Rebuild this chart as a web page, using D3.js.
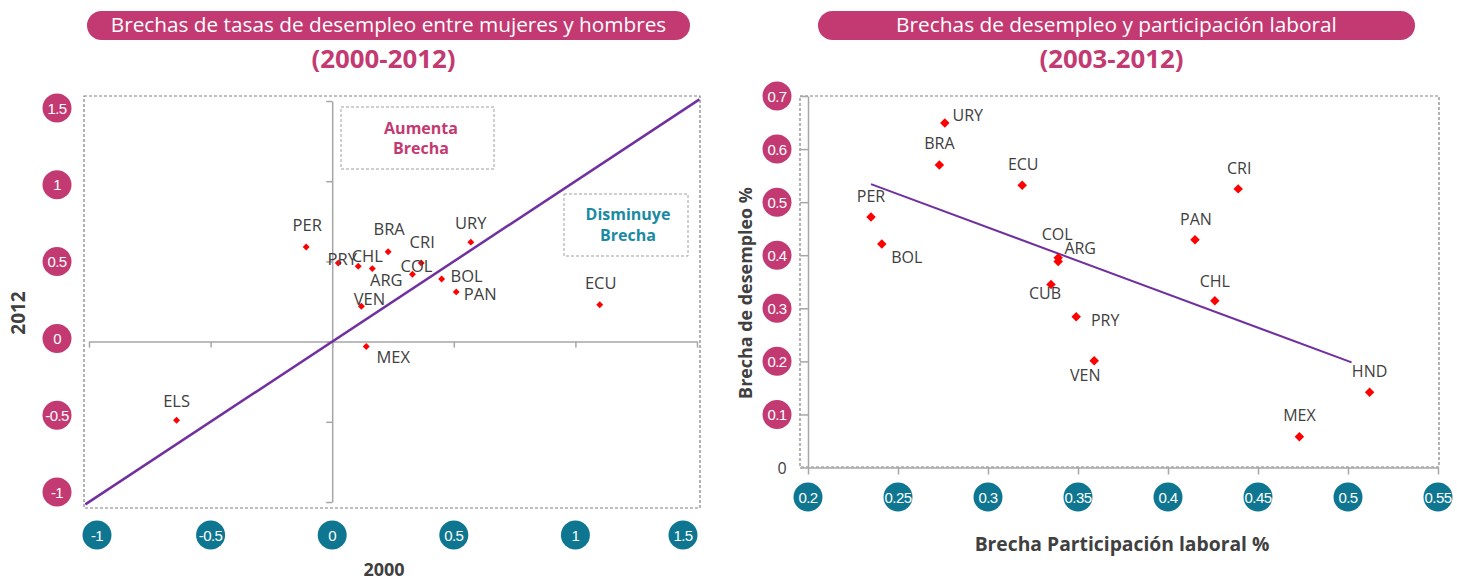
<!DOCTYPE html>
<html>
<head>
<meta charset="utf-8">
<script src="https://cdn.jsdelivr.net/npm/d3@7"></script>
<style>
  body { margin: 0; background: #fff; }
  svg { display: block; font-family: "Open Sans", sans-serif; }
</style>
</head>
<body>
<svg id="chart" width="1457" height="582"></svg>
<script>
// --- left chart: gap women/men unemployment, 2000 vs 2012
const leftCountries = ['PER', 'PRY', 'CHL', 'ARG', 'BRA', 'CRI', 'COL', 'URY', 'BOL', 'PAN', 'VEN', 'MEX', 'ECU', 'ELS'];
const gap2000 = [-0.107, 0.025, 0.107, 0.165, 0.23, 0.366, 0.33, 0.57, 0.45, 0.51, 0.12, 0.14, 1.10, -0.64];
const gap2012 = [0.59, 0.49, 0.47, 0.455, 0.56, 0.49, 0.42, 0.62, 0.39, 0.31, 0.22, -0.03, 0.23, -0.49];
const leftTicks = [-1, -0.5, 0, 0.5, 1, 1.5];

// --- right chart: unemployment gap vs participation gap
const rightCountries = ['URY', 'BRA', 'ECU', 'PER', 'BOL', 'COL', 'ARG', 'CUB', 'PRY', 'VEN', 'PAN', 'CRI', 'CHL', 'HND', 'MEX'];
const participationGap = [0.276, 0.273, 0.319, 0.235, 0.241, 0.339, 0.339, 0.335, 0.349, 0.359, 0.415, 0.439, 0.426, 0.512, 0.473];
const unemploymentGap = [0.649, 0.570, 0.532, 0.472, 0.421, 0.395, 0.388, 0.345, 0.284, 0.201, 0.429, 0.525, 0.314, 0.142, 0.058];
const trendX = [0.235, 0.502];
const trendY = [0.534, 0.198];
const rightXTicks = [0.2, 0.25, 0.3, 0.35, 0.4, 0.45, 0.5, 0.55];
const rightYTicks = [0, 0.1, 0.2, 0.3, 0.4, 0.5, 0.6, 0.7];

// label placement (centre offset from the marker, px)
const leftLabelOffset = {
  PER: [1, -22], PRY: [4, -5], CHL: [9, -11], ARG: [14, 11], BRA: [1, -23], CRI: [1, -22],
  COL: [4, -9], URY: [0, -20], BOL: [25, -4], PAN: [24, 2], VEN: [8, -8], MEX: [27, 10],
  ECU: [1, -22], ELS: [0, -20]
};
const rightLabelOffset = {
  URY: [23, -8], BRA: [0, -22], ECU: [1, -21], PER: [0, -21], BOL: [25, 13], COL: [-1, -24],
  ARG: [22, -14], CUB: [-6, 9], PRY: [29, 3], VEN: [-9, 14], PAN: [1, -21], CRI: [1, -21],
  CHL: [0, -20], HND: [0, -21], MEX: [0, -22]
};

const pink = '#c33a72';
const teal = '#0f7691';
const axisGray = '#a6a6a6';
const textGray = '#404040';
const narrow = '"Liberation Sans Narrow", "Arial Narrow", sans-serif';

const svg = d3.select('#chart');

function fitText(sel, width) {
  const w = sel.node().getComputedTextLength();
  const fs = parseFloat(sel.attr('font-size'));
  sel.attr('font-size', fs * width / w);
  return sel;
}

function titlePill(x0, x1, text, textWidth, sub) {
  svg.append('rect')
    .attr('x', x0).attr('y', 11)
    .attr('width', x1 - x0).attr('height', 29)
    .attr('rx', 14.5)
    .attr('fill', pink);
  const t = svg.append('text')
    .attr('x', (x0 + x1) / 2).attr('y', 32)
    .attr('text-anchor', 'middle')
    .attr('font-size', 18)
    .attr('fill', '#fff')
    .text(text);
  fitText(t, textWidth);
  const s = svg.append('text')
    .attr('x', (x0 + x1) / 2 - 5).attr('y', 68)
    .attr('text-anchor', 'middle')
    .attr('font-size', 22)
    .attr('font-weight', 'bold')
    .attr('fill', pink)
    .text(sub);
  fitText(s, 144);
}

function labelCircle(cx, cy, color, label) {
  svg.append('circle')
    .attr('cx', cx).attr('cy', cy).attr('r', 14.5)
    .attr('fill', color);
  svg.append('text')
    .attr('x', cx).attr('y', cy)
    .attr('text-anchor', 'middle')
    .attr('dominant-baseline', 'central')
    .attr('font-family', narrow)
    .attr('font-size', 15)
    .attr('letter-spacing', -0.6)
    .attr('fill', '#fff')
    .text(label);
}

const diamond = d3.symbol().type(d3.symbolSquare);

/* ================= LEFT CHART ================= */
titlePill(87, 690, 'Brechas de tasas de desempleo entre mujeres y hombres', 556, '(2000-2012)');

const xL = d3.scaleLinear().domain([-1, 1.5]).range([89, 697]);
const yL = d3.scaleLinear().domain([-1, 1.5]).range([502, 101]);

svg.append('rect')
  .attr('x', 84).attr('y', 96).attr('width', 616).attr('height', 412)
  .attr('fill', 'none').attr('stroke', '#808080')
  .attr('stroke-width', 1.2).attr('stroke-dasharray', '3,2');

const gxL = svg.append('g')
  .attr('transform', `translate(0,${yL(0)})`)
  .call(d3.axisBottom(xL).tickValues(leftTicks).tickSize(6).tickSizeOuter(0).tickFormat(''));
const gyL = svg.append('g')
  .attr('transform', `translate(${xL(0)},0)`)
  .call(d3.axisLeft(yL).tickValues(leftTicks).tickSize(6).tickSizeOuter(0).tickFormat(''));
[gxL, gyL].forEach(g => {
  g.selectAll('path, line').attr('stroke', axisGray).attr('stroke-width', 1.5);
});

// annotation boxes
svg.append('rect')
  .attr('x', 341).attr('y', 107).attr('width', 153).attr('height', 62)
  .attr('fill', 'none').attr('stroke', '#a0a0a0').attr('stroke-dasharray', '3,2');
svg.append('text').attr('x', 421).attr('y', 134).attr('text-anchor', 'middle')
  .attr('font-size', 16).attr('font-weight', 'bold').attr('fill', pink).text('Aumenta');
svg.append('text').attr('x', 421).attr('y', 154).attr('text-anchor', 'middle')
  .attr('font-size', 16).attr('font-weight', 'bold').attr('fill', pink).text('Brecha');

svg.append('rect')
  .attr('x', 564).attr('y', 194).attr('width', 124).attr('height', 62)
  .attr('fill', 'none').attr('stroke', '#a0a0a0').attr('stroke-dasharray', '3,2');
svg.append('text').attr('x', 628).attr('y', 220).attr('text-anchor', 'middle')
  .attr('font-size', 16).attr('font-weight', 'bold').attr('fill', '#1a8aa3').text('Disminuye');
svg.append('text').attr('x', 628).attr('y', 241).attr('text-anchor', 'middle')
  .attr('font-size', 16).attr('font-weight', 'bold').attr('fill', '#1a8aa3').text('Brecha');

// 45 degree reference line
svg.append('path')
  .datum([-1.015, 1.51])
  .attr('d', d3.line().x(d => xL(d)).y(d => yL(d)))
  .attr('stroke', '#7030a0').attr('stroke-width', 2.5).attr('fill', 'none');

const leftData = leftCountries.map((c, i) => ({ c, x: gap2000[i], y: gap2012[i] }));
svg.append('g').selectAll('path')
  .data(leftData).enter().append('path')
  .attr('d', diamond.size(24))
  .attr('transform', d => `translate(${xL(d.x)},${yL(d.y)}) rotate(45)`)
  .attr('fill', '#ff0000');
svg.append('g').selectAll('text')
  .data(leftData).enter().append('text')
  .attr('x', d => xL(d.x) + leftLabelOffset[d.c][0])
  .attr('y', d => yL(d.y) + leftLabelOffset[d.c][1])
  .attr('text-anchor', 'middle')
  .attr('dominant-baseline', 'central')
  .attr('font-size', 16.5)
  .attr('fill', textGray)
  .text(d => d.c);

const yLabL = d3.scaleLinear().domain([-1, 1.5]).range([492, 108]);
leftTicks.forEach(v => {
  labelCircle(57, yLabL(v), pink, String(v));
  labelCircle(Math.max(97, Math.min(683, xL(v))), 535, teal, String(v));
});

svg.append('text')
  .attr('transform', 'translate(25,313) rotate(-90)')
  .attr('text-anchor', 'middle')
  .attr('font-size', 19).attr('font-weight', 'bold').attr('fill', textGray)
  .text('2012');
svg.append('text')
  .attr('x', 384).attr('y', 576)
  .attr('text-anchor', 'middle')
  .attr('font-size', 18).attr('font-weight', 'bold').attr('fill', textGray)
  .text('2000');

/* ================= RIGHT CHART ================= */
titlePill(818, 1415, 'Brechas de desempleo y participación laboral', 441, '(2003-2012)');

const xR = d3.scaleLinear().domain([0.2, 0.55]).range([808, 1438]);
const yR = d3.scaleLinear().domain([0, 0.7]).range([467.5, 96]);

svg.append('rect')
  .attr('x', 800).attr('y', 96).attr('width', 639).attr('height', 371)
  .attr('fill', 'none').attr('stroke', '#808080')
  .attr('stroke-width', 1.2).attr('stroke-dasharray', '3,2');

const gxR = svg.append('g')
  .attr('transform', `translate(0,${yR(0)})`)
  .call(d3.axisBottom(xR).tickValues(rightXTicks).tickSize(7).tickSizeOuter(0).tickFormat(''));
const gyR = svg.append('g')
  .attr('transform', `translate(${xR(0.2)},0)`)
  .call(d3.axisLeft(yR).tickValues(rightYTicks).tickSize(8).tickSizeOuter(0).tickFormat(''));
[gxR, gyR].forEach(g => {
  g.selectAll('path, line').attr('stroke', axisGray).attr('stroke-width', 1.5);
});

svg.append('path')
  .datum(trendX.map((x, i) => [x, trendY[i]]))
  .attr('d', d3.line().x(d => xR(d[0])).y(d => yR(d[1])))
  .attr('stroke', '#7030a0').attr('stroke-width', 2).attr('fill', 'none');

const rightData = rightCountries.map((c, i) => ({ c, x: participationGap[i], y: unemploymentGap[i] }));
svg.append('g').selectAll('path')
  .data(rightData).enter().append('path')
  .attr('d', diamond.size(45))
  .attr('transform', d => `translate(${xR(d.x)},${yR(d.y)}) rotate(45)`)
  .attr('fill', '#ff0000');
svg.append('g').selectAll('text')
  .data(rightData).enter().append('text')
  .attr('x', d => xR(d.x) + rightLabelOffset[d.c][0])
  .attr('y', d => yR(d.y) + rightLabelOffset[d.c][1])
  .attr('text-anchor', 'middle')
  .attr('dominant-baseline', 'central')
  .attr('font-size', 16)
  .attr('fill', textGray)
  .text(d => d.c);

rightYTicks.forEach(v => {
  if (v === 0) {
    svg.append('text')
      .attr('x', 782).attr('y', yR(v))
      .attr('text-anchor', 'middle').attr('dominant-baseline', 'central')
      .attr('font-size', 16).attr('fill', textGray)
      .text('0');
  } else {
    labelCircle(777, yR(v), pink, String(v));
  }
});
rightXTicks.forEach(v => labelCircle(xR(v), 497, teal, String(v)));

svg.append('text')
  .attr('x', 1122).attr('y', 551)
  .attr('text-anchor', 'middle')
  .attr('font-size', 18).attr('font-weight', 'bold').attr('fill', textGray)
  .text('Brecha Participación laboral %')
  .call(s => fitText(s, 295));
svg.append('text')
  .attr('transform', 'translate(752,293) rotate(-90)')
  .attr('text-anchor', 'middle')
  .attr('font-size', 18).attr('font-weight', 'bold').attr('fill', textGray)
  .text('Brecha de desempleo %')
  .call(s => fitText(s, 212));
</script>
</body>
</html>
